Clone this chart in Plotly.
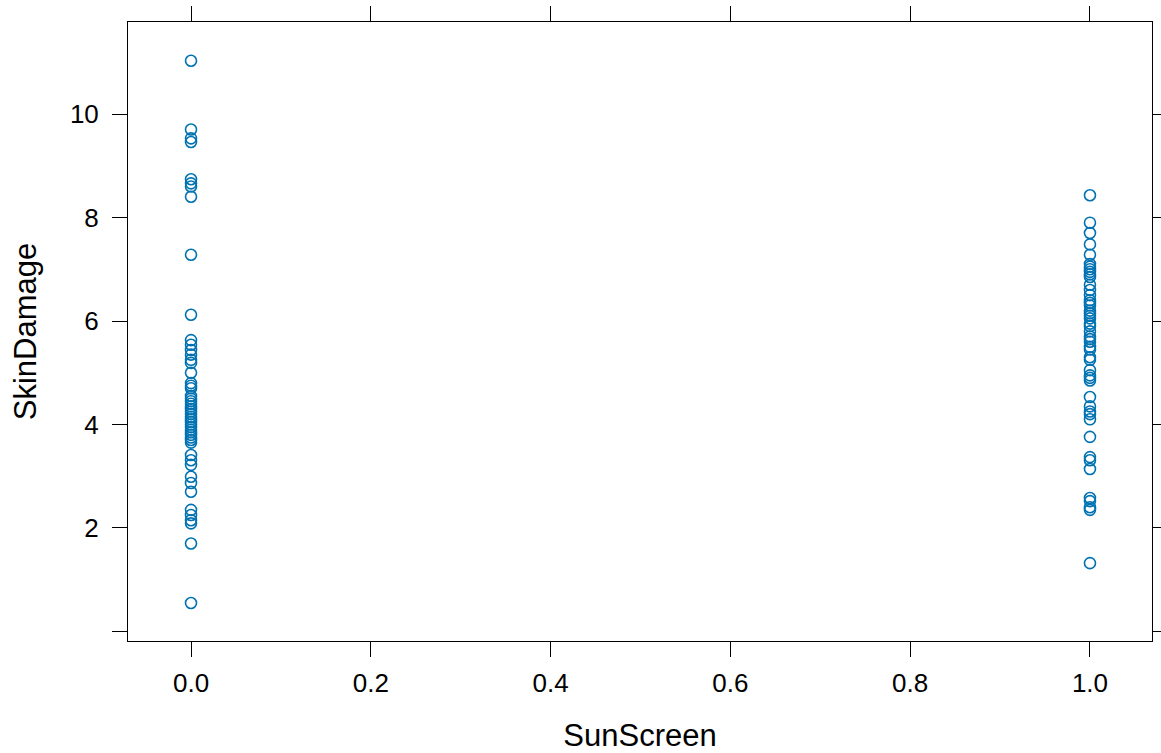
import plotly.graph_objects as go

sunscreen0 = [11.03, 9.70, 9.53, 9.46, 8.74, 8.66, 8.60, 8.40, 7.28, 6.12,
              5.63, 5.54, 5.44, 5.35, 5.25, 5.19, 5.00, 4.80, 4.75, 4.70,
              4.55, 4.50, 4.45, 4.40, 4.35, 4.30, 4.25, 4.20, 4.15, 4.10,
              4.05, 4.00, 3.95, 3.90, 3.85, 3.80, 3.75, 3.70, 3.65, 3.41,
              3.31, 3.22, 2.99, 2.87, 2.70, 2.35, 2.25, 2.15, 2.09, 1.70, 0.55]
sunscreen1 = [8.43, 7.90, 7.70, 7.48, 7.28, 7.10, 7.05, 7.00, 6.95, 6.90,
              6.85, 6.70, 6.60, 6.50, 6.40, 6.35, 6.30, 6.20, 6.15, 6.10,
              6.05, 5.95, 5.90, 5.80, 5.70, 5.65, 5.60, 5.50, 5.45, 5.30,
              5.25, 5.05, 4.95, 4.90, 4.85, 4.53, 4.35, 4.25, 4.20, 4.10,
              3.76, 3.37, 3.31, 3.14, 2.58, 2.52, 2.40, 2.35, 1.32]

x_vals = [0.0] * len(sunscreen0) + [1.0] * len(sunscreen1)
y_vals = sunscreen0 + sunscreen1

x_ticks = [0.0, 0.2, 0.4, 0.6, 0.8, 1.0]
x_ticklabels = ["0.0", "0.2", "0.4", "0.6", "0.8", "1.0"]
y_ticks = [0, 2, 4, 6, 8, 10]
y_ticklabels = ["", "2", "4", "6", "8", "10"]

fig = go.Figure(go.Scatter(
    x=x_vals, y=y_vals, mode="markers",
    marker=dict(symbol="circle-open", size=11, color="#0072B2",
                line=dict(width=1.6, color="#0072B2")),
    showlegend=False,
))

font_family = "Liberation Sans, Arial, sans-serif"
axis_common = dict(
    showgrid=False, zeroline=False, showline=True, linecolor="black",
    linewidth=1, mirror="ticks", ticks="outside", ticklen=15, tickwidth=1,
    tickcolor="black", automargin=False,
    tickfont=dict(family=font_family, size=26, color="black"),
)

fig.update_layout(
    width=1161, height=753,
    margin=dict(l=128, r=9, t=22, b=112),
    plot_bgcolor="white", paper_bgcolor="white",
    xaxis=dict(range=[-0.0701, 1.069], tickvals=x_ticks, ticktext=x_ticklabels,
               ticklabelstandoff=4,
               title=dict(text="SunScreen", font=dict(family=font_family, size=31, color="black"),
                          standoff=30),
               **axis_common),
    yaxis=dict(range=[-0.184, 11.778], tickvals=y_ticks, ticktext=y_ticklabels,
               ticklabelstandoff=8,
               title=dict(text="SkinDamage", font=dict(family=font_family, size=31, color="black"),
                          standoff=24),
               **axis_common),
)

fig.write_html("out.html")
